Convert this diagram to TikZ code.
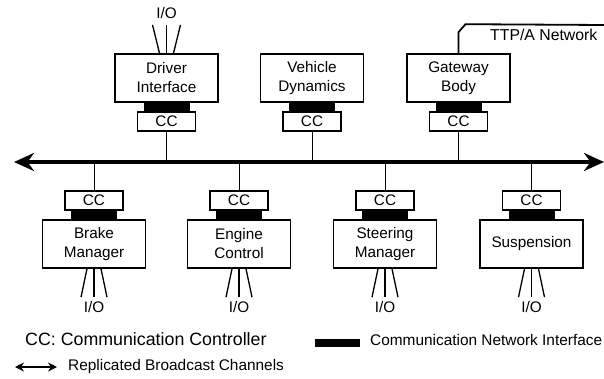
\documentclass[tikz,border=0pt]{standalone}
\usepackage{fontspec}
\setmainfont{Liberation Sans}
\usetikzlibrary{positioning,arrows.meta}
\tikzset{
  ecu/.style={draw,line width=1.6pt,minimum width=103pt,minimum height=48pt,align=center,inner sep=0pt},
  ccbox/.style={draw,line width=1.6pt,minimum width=58pt,minimum height=19pt,inner sep=0pt},
  cni/.style={fill=black,minimum width=46pt,minimum height=8pt,inner sep=0pt},
  tap/.style={line width=0.8pt},
  io/.style={line width=1.3pt},
  bus/.style={line width=4.5pt,{Stealth[length=20pt,width=18pt]}-{Stealth[length=20pt,width=18pt]}},
  lbl/.style={anchor=west,inner sep=0pt},
}
\begin{document}
\begin{tikzpicture}[x=1pt,y=-1pt,font=\fontsize{15.3}{19}\selectfont]
\useasboundingbox (0,0) rectangle (604,379);
% nodes above the bus
\node[ecu] (di) at (166.5,78) {Driver\\Interface};
\node[ecu] (vd) at (312,78) {Vehicle\\Dynamics};
\node[ecu] (gw) at (458.5,78) {Gateway\\Body};
% nodes below the bus
\node[ecu] (bm) at (94,244) {Brake\\Manager};
\node[ecu] (ec) at (239,244) {Engine\\Control};
\node[ecu] (sm) at (385,244) {Steering\\Manager};
\node[ecu] (su) at (531.5,244) {Suspension};
\foreach \n in {di,vd,gw}{
  \node[cni,below=0pt of \n] (\n bar) {};
  \node[ccbox,below=0pt of \n bar] (\n cc) {CC};
}
\foreach \n in {bm,ec,sm,su}{
  \node[cni,above=0pt of \n] (\n bar) {};
  \node[ccbox,above=0pt of \n bar] (\n cc) {CC};
}
% the bus
\coordinate (busl) at (14,162);
\coordinate (busr) at (604,162);
\foreach \n in {di,vd,gw,bm,ec,sm,su}
  \draw[tap] (\n cc) -- (\n cc |- busl);
\draw[bus] (busl) -- (busr);
% I/O
\foreach \n/\x in {di/166.5}{
  \node[inner sep=0pt] (\n io) at (\x,13) {I/O};
  \foreach \d in {-1,0,1}
    \draw[io] ([xshift=\d*7pt]\n.north) -- ([xshift=\d*14pt,yshift=-6pt]\n io.south);
}
\foreach \n/\x in {bm/94,ec/239,sm/385,su/531.5}{
  \node[inner sep=0pt] (\n io) at (\x,307) {I/O};
  \foreach \d in {-1,0,1}
    \draw[io] ([xshift=\d*7pt]\n.south) -- ([xshift=\d*13pt,yshift=4pt]\n io.north);
}
% TTP/A
\coordinate (ttpa) at (604,25);
\draw[line width=1.8pt] (gw.north) -- ++(0,-21) -- ++(7,-8) -- (ttpa);
\node[lbl,font=\fontsize{15.8}{19}\selectfont] (ttpalbl) at (490,35) {TTP/A Network};
% legend
\node[lbl,font=\fontsize{17.8}{20}\selectfont] (cclg) at (25,339) {CC: Communication Controller};
\node[cni,minimum width=45pt] (cnilg) at (337.5,343) {};
\node[lbl,font=\fontsize{15.4}{19}\selectfont] (cnitx) at (370,340) {Communication Network Interface};
\coordinate (arl) at (15,367);
\coordinate (arr) at (57,367);
\draw[line width=1.5pt,{Stealth[length=9pt,width=9pt]}-{Stealth[length=9pt,width=9pt]}] (arl) -- (arr);
\node[lbl,font=\fontsize{15.4}{19}\selectfont] (rbc) at (68,367) {Replicated Broadcast Channels};
\end{tikzpicture}
\end{document}
